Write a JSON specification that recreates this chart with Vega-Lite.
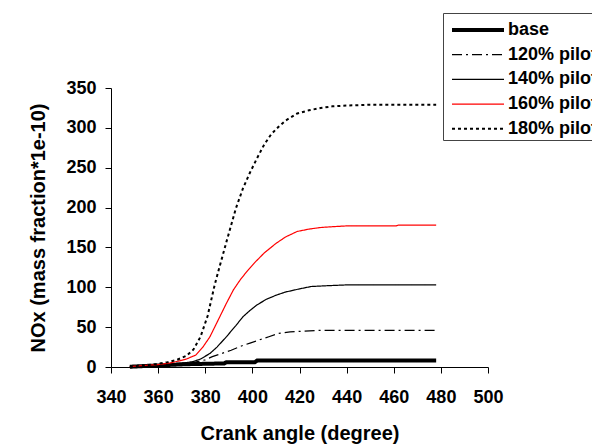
{
  "$schema": "https://vega.github.io/schema/vega-lite/v6.json",
  "autosize": "none",
  "width": 377,
  "height": 279,
  "padding": {"left": 111, "top": 88, "right": 104, "bottom": 81},
  "background": "white",
  "config": {
    "font": "Liberation Sans",
    "view": {"stroke": null},
    "axis": {
      "grid": false,
      "domainColor": "black",
      "tickColor": "black",
      "tickSize": 6,
      "labelFlush": false,
      "labelOverlap": false,
      "labelFontWeight": "bold",
      "labelColor": "black",
      "titleFontWeight": "bold",
      "titleColor": "black",
      "labelFontSize": 18,
      "titleFontSize": 20
    }
  },
  "data": {"values": [
    {"series": "base", "angle": 348, "nox": 0.3},
    {"series": "base", "angle": 356, "nox": 1.5},
    {"series": "base", "angle": 364, "nox": 2.5},
    {"series": "base", "angle": 372, "nox": 3.5},
    {"series": "base", "angle": 380, "nox": 4},
    {"series": "base", "angle": 388, "nox": 4.5},
    {"series": "base", "angle": 389, "nox": 6},
    {"series": "base", "angle": 401, "nox": 6},
    {"series": "base", "angle": 402, "nox": 8},
    {"series": "base", "angle": 478, "nox": 8},

    {"series": "120% pilot", "angle": 348, "nox": 0.5},
    {"series": "120% pilot", "angle": 356, "nox": 2},
    {"series": "120% pilot", "angle": 364, "nox": 3},
    {"series": "120% pilot", "angle": 370, "nox": 4},
    {"series": "120% pilot", "angle": 374, "nox": 5},
    {"series": "120% pilot", "angle": 377, "nox": 7},
    {"series": "120% pilot", "angle": 380, "nox": 9},
    {"series": "120% pilot", "angle": 383, "nox": 13},
    {"series": "120% pilot", "angle": 387, "nox": 17},
    {"series": "120% pilot", "angle": 391, "nox": 21},
    {"series": "120% pilot", "angle": 395, "nox": 26},
    {"series": "120% pilot", "angle": 399, "nox": 30},
    {"series": "120% pilot", "angle": 403, "nox": 34},
    {"series": "120% pilot", "angle": 407, "nox": 38},
    {"series": "120% pilot", "angle": 411, "nox": 42},
    {"series": "120% pilot", "angle": 416, "nox": 44},
    {"series": "120% pilot", "angle": 422, "nox": 45},
    {"series": "120% pilot", "angle": 428, "nox": 46},
    {"series": "120% pilot", "angle": 478, "nox": 46},

    {"series": "140% pilot", "angle": 348, "nox": 0.5},
    {"series": "140% pilot", "angle": 355, "nox": 2},
    {"series": "140% pilot", "angle": 362, "nox": 3},
    {"series": "140% pilot", "angle": 368, "nox": 4.5},
    {"series": "140% pilot", "angle": 372, "nox": 5.5},
    {"series": "140% pilot", "angle": 375, "nox": 7},
    {"series": "140% pilot", "angle": 378, "nox": 10},
    {"series": "140% pilot", "angle": 382, "nox": 17},
    {"series": "140% pilot", "angle": 385, "nox": 25},
    {"series": "140% pilot", "angle": 389, "nox": 38},
    {"series": "140% pilot", "angle": 393, "nox": 52},
    {"series": "140% pilot", "angle": 396, "nox": 63},
    {"series": "140% pilot", "angle": 399, "nox": 71},
    {"series": "140% pilot", "angle": 402, "nox": 78},
    {"series": "140% pilot", "angle": 406, "nox": 85},
    {"series": "140% pilot", "angle": 410, "nox": 90},
    {"series": "140% pilot", "angle": 414, "nox": 94},
    {"series": "140% pilot", "angle": 420, "nox": 98},
    {"series": "140% pilot", "angle": 425, "nox": 101},
    {"series": "140% pilot", "angle": 432, "nox": 102},
    {"series": "140% pilot", "angle": 440, "nox": 103},
    {"series": "140% pilot", "angle": 478, "nox": 103},

    {"series": "160% pilot", "angle": 348, "nox": 0.5},
    {"series": "160% pilot", "angle": 354, "nox": 2},
    {"series": "160% pilot", "angle": 360, "nox": 3},
    {"series": "160% pilot", "angle": 365, "nox": 5},
    {"series": "160% pilot", "angle": 368, "nox": 7},
    {"series": "160% pilot", "angle": 372, "nox": 10},
    {"series": "160% pilot", "angle": 376, "nox": 15},
    {"series": "160% pilot", "angle": 379, "nox": 25},
    {"series": "160% pilot", "angle": 382, "nox": 38},
    {"series": "160% pilot", "angle": 385, "nox": 56},
    {"series": "160% pilot", "angle": 389, "nox": 80},
    {"series": "160% pilot", "angle": 392, "nox": 97},
    {"series": "160% pilot", "angle": 395, "nox": 110},
    {"series": "160% pilot", "angle": 398, "nox": 121},
    {"series": "160% pilot", "angle": 401, "nox": 131},
    {"series": "160% pilot", "angle": 405, "nox": 143},
    {"series": "160% pilot", "angle": 410, "nox": 155},
    {"series": "160% pilot", "angle": 414, "nox": 163},
    {"series": "160% pilot", "angle": 419, "nox": 170},
    {"series": "160% pilot", "angle": 424, "nox": 173},
    {"series": "160% pilot", "angle": 429, "nox": 175},
    {"series": "160% pilot", "angle": 434, "nox": 176},
    {"series": "160% pilot", "angle": 440, "nox": 177},
    {"series": "160% pilot", "angle": 461, "nox": 177},
    {"series": "160% pilot", "angle": 462, "nox": 178},
    {"series": "160% pilot", "angle": 478, "nox": 178},

    {"series": "180% pilot", "angle": 348, "nox": 0.5},
    {"series": "180% pilot", "angle": 352, "nox": 1.5},
    {"series": "180% pilot", "angle": 356, "nox": 2.5},
    {"series": "180% pilot", "angle": 360, "nox": 4},
    {"series": "180% pilot", "angle": 364, "nox": 6},
    {"series": "180% pilot", "angle": 368, "nox": 9},
    {"series": "180% pilot", "angle": 372, "nox": 14},
    {"series": "180% pilot", "angle": 375, "nox": 22},
    {"series": "180% pilot", "angle": 378, "nox": 38},
    {"series": "180% pilot", "angle": 381, "nox": 64},
    {"series": "180% pilot", "angle": 384, "nox": 103},
    {"series": "180% pilot", "angle": 386, "nox": 125},
    {"series": "180% pilot", "angle": 389, "nox": 157},
    {"series": "180% pilot", "angle": 393, "nox": 199},
    {"series": "180% pilot", "angle": 396, "nox": 224},
    {"series": "180% pilot", "angle": 399, "nox": 244},
    {"series": "180% pilot", "angle": 402, "nox": 262},
    {"series": "180% pilot", "angle": 405, "nox": 279},
    {"series": "180% pilot", "angle": 408, "nox": 292},
    {"series": "180% pilot", "angle": 411, "nox": 301},
    {"series": "180% pilot", "angle": 414, "nox": 309},
    {"series": "180% pilot", "angle": 419, "nox": 318},
    {"series": "180% pilot", "angle": 424, "nox": 322},
    {"series": "180% pilot", "angle": 429, "nox": 325},
    {"series": "180% pilot", "angle": 434, "nox": 327},
    {"series": "180% pilot", "angle": 440, "nox": 328},
    {"series": "180% pilot", "angle": 450, "nox": 329},
    {"series": "180% pilot", "angle": 478, "nox": 329}
  ]},
  "mark": {"type": "line", "clip": false},
  "encoding": {
    "x": {
      "field": "angle", "type": "quantitative",
      "scale": {"domain": [340, 500], "nice": false, "zero": false},
      "axis": {"values": [340, 360, 380, 400, 420, 440, 460, 480, 500], "title": "Crank angle (degree)", "labelPadding": 15, "titlePadding": 17}
    },
    "y": {
      "field": "nox", "type": "quantitative",
      "scale": {"domain": [0, 350], "nice": false},
      "axis": {"values": [0, 50, 100, 150, 200, 250, 300, 350], "title": "NOx (mass fraction*1e-10)", "labelPadding": 9, "titlePadding": 17}
    },
    "color": {
      "field": "series", "type": "nominal",
      "scale": {"domain": ["base", "120% pilot", "140% pilot", "160% pilot", "180% pilot"], "range": ["#000000", "#000000", "#000000", "#ff0000", "#000000"]},
      "legend": {
        "title": null, "orient": "none", "legendX": 332, "legendY": -75,
        "symbolType": "M-2,0H2", "symbolSize": 676,
        "symbolOffset": 18,
        "labelFont": "Liberation Sans", "labelFontWeight": "bold", "labelFontSize": 18, "labelColor": "black",
        "labelOffset": 15, "padding": 2, "rowPadding": 1.7,
        "strokeColor": "#444444", "fillColor": "white", "labelLimit": 300
      }
    },
    "strokeDash": {
      "field": "series", "type": "nominal",
      "scale": {"domain": ["base", "120% pilot", "140% pilot", "160% pilot", "180% pilot"], "range": [[1, 0], [10, 4, 2, 4], [1, 0], [1, 0], [3, 3]]}
    },
    "strokeWidth": {
      "field": "series", "type": "nominal",
      "scale": {"type": "ordinal", "domain": ["base", "120% pilot", "140% pilot", "160% pilot", "180% pilot"], "range": [4, 1.2, 1.2, 1.2, 2]}
    }
  }
}
